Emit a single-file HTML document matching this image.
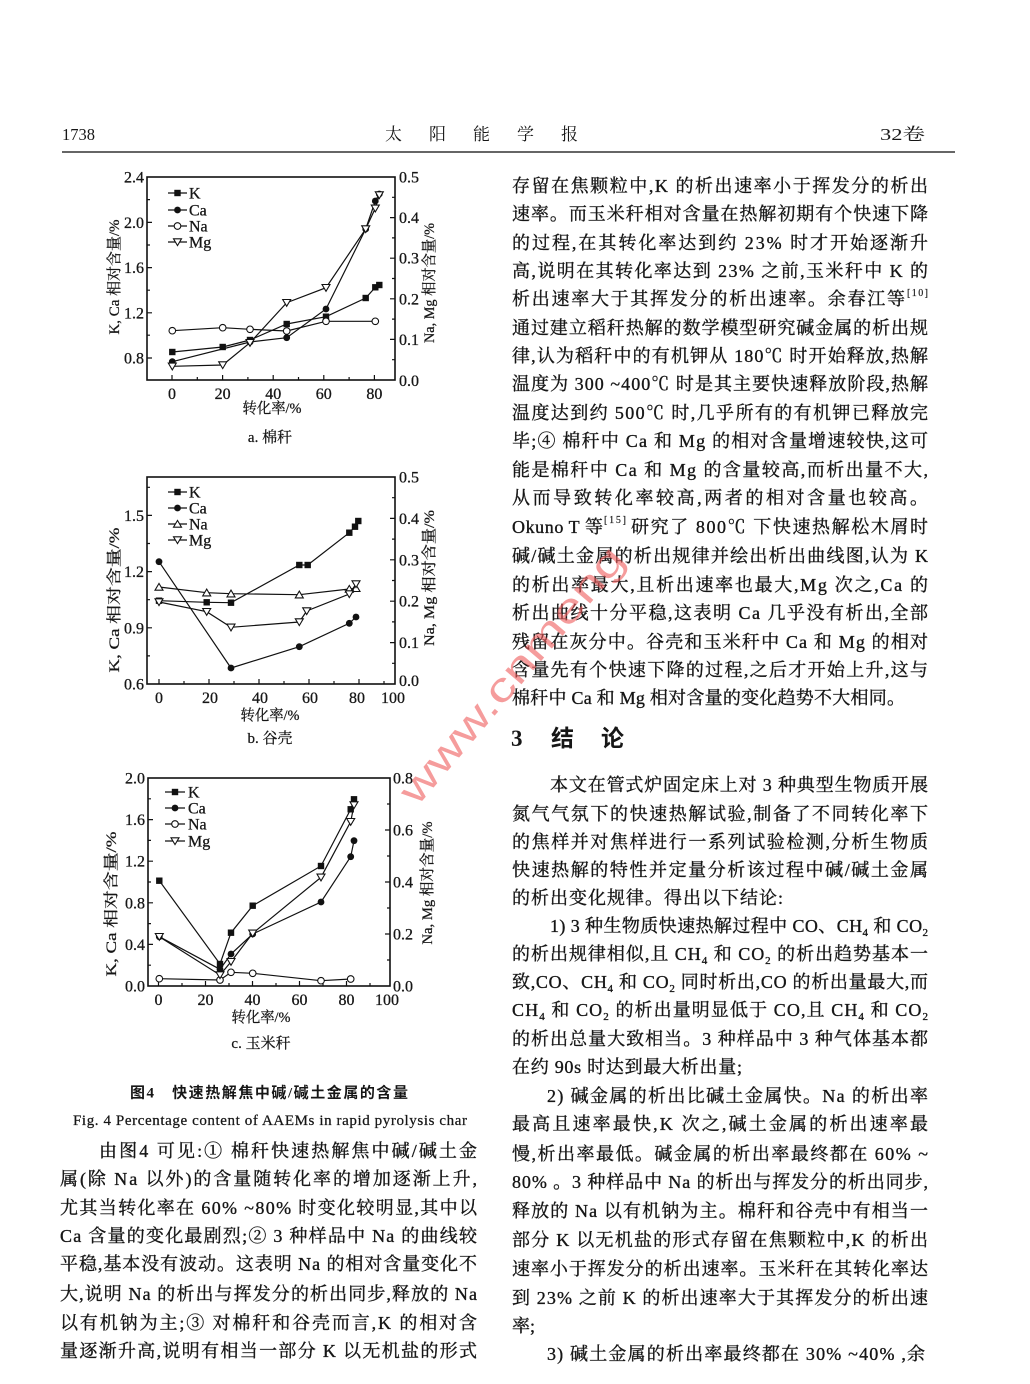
<!DOCTYPE html>
<html><head><meta charset="utf-8"><style>
html,body{margin:0;padding:0;background:#fff;}
svg{display:block;}
.t{font-family:"Liberation Serif","Noto Serif CJK SC",serif;fill:#161616;}
.b{font-size:18px;stroke:#161616;stroke-width:0.35px;}
.n{font-size:16px;stroke:#161616;stroke-width:0.3px;}
.h{font-family:"Liberation Serif","Noto Sans CJK SC",sans-serif;}
</style></head><body>
<svg width="1030" height="1384" viewBox="0 0 1030 1384" xmlns="http://www.w3.org/2000/svg">
<defs>
<marker id="msq" markerWidth="10" markerHeight="10" refX="5" refY="5" markerUnits="userSpaceOnUse" overflow="visible"><rect x="1.8" y="1.8" width="6.4" height="6.4" fill="#111"/></marker>
<marker id="mci" markerWidth="10" markerHeight="10" refX="5" refY="5" markerUnits="userSpaceOnUse" overflow="visible"><circle cx="5" cy="5" r="3.4" fill="#111"/></marker>
<marker id="moc" markerWidth="10" markerHeight="10" refX="5" refY="5" markerUnits="userSpaceOnUse" overflow="visible"><circle cx="5" cy="5" r="3.3" fill="#fff" stroke="#111" stroke-width="1.1"/></marker>
<marker id="mtd" markerWidth="10" markerHeight="10" refX="5" refY="5" markerUnits="userSpaceOnUse" overflow="visible"><polygon points="1,1.8 9,1.8 5,8.6" fill="#fff" stroke="#111" stroke-width="1.1"/></marker>
<marker id="mtu" markerWidth="10" markerHeight="10" refX="5" refY="5" markerUnits="userSpaceOnUse" overflow="visible"><polygon points="1,8.2 9,8.2 5,1.4" fill="#fff" stroke="#111" stroke-width="1.1"/></marker>
</defs>

<!-- Header -->
<text class="t" x="62" y="140" font-size="17" textLength="33" lengthAdjust="spacingAndGlyphs">1738</text>
<text class="t" x="385" y="140" font-size="17" textLength="193" lengthAdjust="spacing">太阳能学报</text>
<text class="t" x="880" y="140" font-size="17" textLength="45" lengthAdjust="spacingAndGlyphs">32卷</text>
<line x1="62" y1="152" x2="955" y2="152" stroke="#333" stroke-width="1.6"/>

<g stroke="#111" fill="none" stroke-width="1.2">
<rect x="147" y="177" width="248" height="203" stroke-width="1.6"/>
<path d="M147 358h5M147 312.8h5M147 267.6h5M147 222.4h5M147 335.2h3M147 290.2h3M147 245h3M147 199.6h3
M395 339.4h-5M395 298.8h-5M395 258.2h-5M395 217.6h-5M395 359.7h-3M395 319.1h-3M395 278.5h-3M395 237.9h-3M395 197.3h-3
M172 380v-5M222.6 380v-5M273.2 380v-5M323.8 380v-5M374.4 380v-5M197.3 380v-3M247.9 380v-3M298.5 380v-3M349.1 380v-3"/>
<rect x="147" y="477" width="248" height="207" stroke-width="1.6"/>
<path d="M147 627.8h5M147 571.6h5M147 515.4h5M147 655.9h3M147 599.7h3M147 543.5h3M147 487.3h3
M395 642.6h-5M395 601.2h-5M395 559.8h-5M395 518.4h-5M395 663.3h-3M395 621.9h-3M395 580.5h-3M395 539.1h-3M395 497.7h-3
M159 684v-5M209 684v-5M259 684v-5M309 684v-5M359 684v-5M184 684v-3M234 684v-3M284 684v-3M334 684v-3M384 684v-3"/>
<rect x="148" y="778" width="242" height="208" stroke-width="1.6"/>
<path d="M148 944.4h5M148 902.8h5M148 861.2h5M148 819.6h5M148 965.2h3M148 923.6h3M148 882h3M148 840.4h3M148 798.8h3
M390 934h-5M390 882h-5M390 830h-5M390 960h-3M390 908h-3M390 856h-3M390 804h-3
M158.5 986v-5M205.5 986v-5M252.5 986v-5M299.5 986v-5M346.5 986v-5M182 986v-3M229 986v-3M276 986v-3M323 986v-3M370 986v-3"/>
</g>

<g fill="none" stroke="#111" stroke-width="1.2">
<polyline points="172.3,352 222.7,347 250,340 286.7,324 326,316.7 365.7,298 375.3,287.3 379.3,285" marker-start="url(#msq)" marker-mid="url(#msq)" marker-end="url(#msq)"/>
<polyline points="172.3,361.7 250,342 286.7,337.7 326,309 365.7,229 375.3,201 379.3,194" marker-start="url(#mci)" marker-mid="url(#mci)" marker-end="url(#mci)"/>
<polyline points="172.3,330.7 222.7,327.7 250,329.3 286.7,331 326,321.3 375.3,321.3" marker-start="url(#moc)" marker-mid="url(#moc)" marker-end="url(#moc)"/>
<polyline points="172.3,366.3 222.7,365 250,342.7 286.7,302.7 326,287.7 365.7,229 375.3,208.3 379.3,195" marker-start="url(#mtd)" marker-mid="url(#mtd)" marker-end="url(#mtd)"/>
<polyline points="168,193 177.5,193 187,193" marker-mid="url(#msq)"/>
<polyline points="168,210 177.5,210 187,210" marker-mid="url(#mci)"/>
<polyline points="168,226 177.5,226 187,226" marker-mid="url(#moc)"/>
<polyline points="168,242 177.5,242 187,242" marker-mid="url(#mtd)"/>

<polyline points="159,600.7 206.7,602.3 231,602.7 299.3,565 307.7,565 349.3,532.7 355,526.7 358.3,521" marker-start="url(#msq)" marker-mid="url(#msq)" marker-end="url(#msq)"/>
<polyline points="159,561.7 231,668 299.3,646.7 349.3,623.3 356,617" marker-start="url(#mci)" marker-mid="url(#mci)" marker-end="url(#mci)"/>
<polyline points="159,587 206.7,592.7 231,593.7 299.3,594.7 349.3,589 356,588.3" marker-start="url(#mtu)" marker-mid="url(#mtu)" marker-end="url(#mtu)"/>
<polyline points="159,602 206.7,611.7 231,627.3 299.3,622 306.7,611 349.3,594 356,584" marker-start="url(#mtd)" marker-mid="url(#mtd)" marker-end="url(#mtd)"/>
<polyline points="168,492 177.5,492 187,492" marker-mid="url(#msq)"/>
<polyline points="168,508 177.5,508 187,508" marker-mid="url(#mci)"/>
<polyline points="168,524 177.5,524 187,524" marker-mid="url(#mtu)"/>
<polyline points="168,540 177.5,540 187,540" marker-mid="url(#mtd)"/>

<polyline points="159.3,880.7 220,964 231,932.7 252.7,905.7 321,866 350.7,809.3 354,799.3" marker-start="url(#msq)" marker-mid="url(#msq)" marker-end="url(#msq)"/>
<polyline points="159.3,936.7 220,969.3 231,954 252.7,934 321,902 350.7,856.7 354,840.7" marker-start="url(#mci)" marker-mid="url(#mci)" marker-end="url(#mci)"/>
<polyline points="159.3,978.7 220,980 231,972.3 252.7,973.3 321,980.7 350.7,979" marker-start="url(#moc)" marker-mid="url(#moc)" marker-end="url(#moc)"/>
<polyline points="159.3,936.7 220,975 231,961.7 252.7,933.3 321,877.3 350.7,821.7 354,805" marker-start="url(#mtd)" marker-mid="url(#mtd)" marker-end="url(#mtd)"/>
<polyline points="165,792 175,792 185,792" marker-mid="url(#msq)"/>
<polyline points="165,808 175,808 185,808" marker-mid="url(#mci)"/>
<polyline points="165,824 175,824 185,824" marker-mid="url(#moc)"/>
<polyline points="165,841 175,841 185,841" marker-mid="url(#mtd)"/>
</g>

<!-- Chart a labels -->
<g class="t n">
<text x="144" y="363.5" text-anchor="end">0.8</text>
<text x="144" y="318.3" text-anchor="end">1.2</text>
<text x="144" y="273.1" text-anchor="end">1.6</text>
<text x="144" y="227.9" text-anchor="end">2.0</text>
<text x="144" y="182.5" text-anchor="end">2.4</text>
<text x="399" y="386">0.0</text>
<text x="399" y="344.9">0.1</text>
<text x="399" y="304.3">0.2</text>
<text x="399" y="263.7">0.3</text>
<text x="399" y="223.1">0.4</text>
<text x="399" y="182.5">0.5</text>
<text x="172" y="399" text-anchor="middle">0</text>
<text x="222.6" y="399" text-anchor="middle">20</text>
<text x="273.2" y="399" text-anchor="middle">40</text>
<text x="323.8" y="399" text-anchor="middle">60</text>
<text x="374.4" y="399" text-anchor="middle">80</text>
</g>
<g class="t" font-size="16" stroke="#161616" stroke-width="0.3">
<text x="189" y="198.5">K</text><text x="189" y="215.5">Ca</text><text x="189" y="231.5">Na</text><text x="189" y="247.5">Mg</text>
<text x="189" y="497.5">K</text><text x="189" y="513.5">Ca</text><text x="189" y="529.5">Na</text><text x="189" y="545.5">Mg</text>
<text x="188" y="797.5">K</text><text x="188" y="813.5">Ca</text><text x="188" y="829.5">Na</text><text x="188" y="846.5">Mg</text>
</g>
<g class="t" font-size="15" stroke="#161616" stroke-width="0.25">
<text transform="translate(119,277) rotate(-90)" text-anchor="middle" textLength="115" lengthAdjust="spacingAndGlyphs">K, Ca 相对含量/%</text>
<text transform="translate(434,283) rotate(-90)" text-anchor="middle" textLength="120" lengthAdjust="spacingAndGlyphs">Na, Mg 相对含量/%</text>
<text x="272" y="413" text-anchor="middle" textLength="59" lengthAdjust="spacingAndGlyphs">转化率/%</text>
<text x="270" y="442" text-anchor="middle">a. 棉秆</text>
</g>

<!-- Chart b labels -->
<g class="t n">
<text x="144" y="689.5" text-anchor="end">0.6</text>
<text x="144" y="633.3" text-anchor="end">0.9</text>
<text x="144" y="577.1" text-anchor="end">1.2</text>
<text x="144" y="520.9" text-anchor="end">1.5</text>
<text x="399" y="686">0.0</text>
<text x="399" y="648.1">0.1</text>
<text x="399" y="606.7">0.2</text>
<text x="399" y="565.3">0.3</text>
<text x="399" y="523.9">0.4</text>
<text x="399" y="482.5">0.5</text>
<text x="159" y="703" text-anchor="middle">0</text>
<text x="210" y="703" text-anchor="middle">20</text>
<text x="260" y="703" text-anchor="middle">40</text>
<text x="310" y="703" text-anchor="middle">60</text>
<text x="357" y="703" text-anchor="middle">80</text>
<text x="393" y="703" text-anchor="middle">100</text>
</g>
<g class="t" font-size="15" stroke="#161616" stroke-width="0.25">
<text transform="translate(119,600) rotate(-90)" text-anchor="middle" textLength="145" lengthAdjust="spacingAndGlyphs">K, Ca 相对含量/%</text>
<text transform="translate(434,578) rotate(-90)" text-anchor="middle" textLength="136" lengthAdjust="spacingAndGlyphs">Na, Mg 相对含量/%</text>
<text x="270" y="720" text-anchor="middle" textLength="59" lengthAdjust="spacingAndGlyphs">转化率/%</text>
<text x="270" y="743" text-anchor="middle">b. 谷壳</text>
</g>

<!-- Chart c labels -->
<g class="t n">
<text x="145" y="991.5" text-anchor="end">0.0</text>
<text x="145" y="949.9" text-anchor="end">0.4</text>
<text x="145" y="908.3" text-anchor="end">0.8</text>
<text x="145" y="866.7" text-anchor="end">1.2</text>
<text x="145" y="825.1" text-anchor="end">1.6</text>
<text x="145" y="783.5" text-anchor="end">2.0</text>
<text x="393" y="991.5">0.0</text>
<text x="393" y="939.5">0.2</text>
<text x="393" y="887.5">0.4</text>
<text x="393" y="835.5">0.6</text>
<text x="393" y="783.5">0.8</text>
<text x="158.5" y="1005" text-anchor="middle">0</text>
<text x="205.5" y="1005" text-anchor="middle">20</text>
<text x="252.5" y="1005" text-anchor="middle">40</text>
<text x="299.5" y="1005" text-anchor="middle">60</text>
<text x="346.5" y="1005" text-anchor="middle">80</text>
<text x="387" y="1005" text-anchor="middle">100</text>
</g>
<g class="t" font-size="15" stroke="#161616" stroke-width="0.25">
<text transform="translate(116,904) rotate(-90)" text-anchor="middle" textLength="145" lengthAdjust="spacingAndGlyphs">K, Ca 相对含量/%</text>
<text transform="translate(432,883) rotate(-90)" text-anchor="middle" textLength="123" lengthAdjust="spacingAndGlyphs">Na, Mg 相对含量/%</text>
<text x="261" y="1022" text-anchor="middle" textLength="59" lengthAdjust="spacingAndGlyphs">转化率/%</text>
<text x="261" y="1048" text-anchor="middle">c. 玉米秆</text>
</g>

<!-- Caption -->
<text class="t h" x="130" y="1097.5" font-size="15" font-weight="bold" textLength="278" lengthAdjust="spacing">图4　快速热解焦中碱/碱土金属的含量</text>
<text class="t" x="73" y="1125" font-size="15" stroke="#161616" stroke-width="0.25" textLength="394" lengthAdjust="spacing">Fig. 4    Percentage content of AAEMs in rapid pyrolysis char</text>

<!-- Left column text -->
<g class="t b">
<text x="99" y="1157" textLength="378" lengthAdjust="spacing">由图4 可见:① 棉秆快速热解焦中碱/碱土金</text>
<text x="60" y="1185" textLength="417" lengthAdjust="spacing">属(除 Na 以外)的含量随转化率的增加逐渐上升,</text>
<text x="60" y="1214" textLength="417" lengthAdjust="spacing">尤其当转化率在 60% ~80% 时变化较明显,其中以</text>
<text x="60" y="1242" textLength="417" lengthAdjust="spacing">Ca 含量的变化最剧烈;② 3 种样品中 Na 的曲线较</text>
<text x="60" y="1270" textLength="417" lengthAdjust="spacing">平稳,基本没有波动。这表明 Na 的相对含量变化不</text>
<text x="60" y="1300" textLength="417" lengthAdjust="spacing">大,说明 Na 的析出与挥发分的析出同步,释放的 Na</text>
<text x="60" y="1329" textLength="417" lengthAdjust="spacing">以有机钠为主;③ 对棉秆和谷壳而言,K 的相对含</text>
<text x="60" y="1357" textLength="417" lengthAdjust="spacing">量逐渐升高,说明有相当一部分 K 以无机盐的形式</text>
</g>

<!-- Right column text -->
<g class="t b">
<text x="512" y="192" textLength="416" lengthAdjust="spacing">存留在焦颗粒中,K 的析出速率小于挥发分的析出</text>
<text x="512" y="220" textLength="416" lengthAdjust="spacing">速率。而玉米秆相对含量在热解初期有个快速下降</text>
<text x="512" y="249" textLength="416" lengthAdjust="spacing">的过程,在其转化率达到约 23% 时才开始逐渐升</text>
<text x="512" y="277" textLength="416" lengthAdjust="spacing">高,说明在其转化率达到 23% 之前,玉米秆中 K 的</text>
<text x="512" y="305" textLength="393" lengthAdjust="spacing">析出速率大于其挥发分的析出速率。余春江等</text>
<text x="907" y="296" font-size="10" stroke-width="0.15" textLength="21" lengthAdjust="spacing">[10]</text>
<text x="512" y="334" textLength="416" lengthAdjust="spacing">通过建立稻秆热解的数学模型研究碱金属的析出规</text>
<text x="512" y="362" textLength="416" lengthAdjust="spacing">律,认为稻秆中的有机钾从 180℃ 时开始释放,热解</text>
<text x="512" y="390" textLength="416" lengthAdjust="spacing">温度为 300 ~400℃ 时是其主要快速释放阶段,热解</text>
<text x="512" y="419" textLength="416" lengthAdjust="spacing">温度达到约 500℃ 时,几乎所有的有机钾已释放完</text>
<text x="512" y="447" textLength="416" lengthAdjust="spacing">毕;④ 棉秆中 Ca 和 Mg 的相对含量增速较快,这可</text>
<text x="512" y="476" textLength="416" lengthAdjust="spacing">能是棉秆中 Ca 和 Mg 的含量较高,而析出量不大,</text>
<text x="512" y="504" textLength="416" lengthAdjust="spacing">从而导致转化率较高,两者的相对含量也较高。</text>
<text x="512" y="533" textLength="91" lengthAdjust="spacing">Okuno T 等</text>
<text x="604" y="523" font-size="10" stroke-width="0.15" textLength="22" lengthAdjust="spacing">[15]</text>
<text x="631" y="533" textLength="297" lengthAdjust="spacing">研究了 800℃ 下快速热解松木屑时</text>
<text x="512" y="562" textLength="416" lengthAdjust="spacing">碱/碱土金属的析出规律并绘出析出曲线图,认为 K</text>
<text x="512" y="591" textLength="416" lengthAdjust="spacing">的析出率最大,且析出速率也最大,Mg 次之,Ca 的</text>
<text x="512" y="619" textLength="416" lengthAdjust="spacing">析出曲线十分平稳,这表明 Ca 几乎没有析出,全部</text>
<text x="512" y="648" textLength="416" lengthAdjust="spacing">残留在灰分中。谷壳和玉米秆中 Ca 和 Mg 的相对</text>
<text x="512" y="676" textLength="416" lengthAdjust="spacing">含量先有个快速下降的过程,之后才开始上升,这与</text>
<text x="512" y="704" textLength="393" lengthAdjust="spacing">棉秆中 Ca 和 Mg 相对含量的变化趋势不大相同。</text>
</g>
<g class="t h" font-size="23" font-weight="bold">
<text x="511" y="746">3</text>
<text x="551" y="746">结</text>
<text x="601" y="746">论</text>
</g>
<g class="t b">
<text x="550" y="791" textLength="378" lengthAdjust="spacing">本文在管式炉固定床上对 3 种典型生物质开展</text>
<text x="512" y="820" textLength="416" lengthAdjust="spacing">氮气气氛下的快速热解试验,制备了不同转化率下</text>
<text x="512" y="848" textLength="416" lengthAdjust="spacing">的焦样并对焦样进行一系列试验检测,分析生物质</text>
<text x="512" y="876" textLength="416" lengthAdjust="spacing">快速热解的特性并定量分析该过程中碱/碱土金属</text>
<text x="512" y="904" textLength="271" lengthAdjust="spacing">的析出变化规律。得出以下结论:</text>
<text x="550" y="932" textLength="378" lengthAdjust="spacing">1) 3 种生物质快速热解过程中 CO、CH<tspan font-size="11" dy="4">4</tspan><tspan dy="-4"> 和 CO</tspan><tspan font-size="11" dy="4">2</tspan></text>
<text x="512" y="960" textLength="416" lengthAdjust="spacing">的析出规律相似,且 CH<tspan font-size="11" dy="4">4</tspan><tspan dy="-4"> 和 CO</tspan><tspan font-size="11" dy="4">2</tspan><tspan dy="-4"> 的析出趋势基本一</tspan></text>
<text x="512" y="988" textLength="416" lengthAdjust="spacing">致,CO、CH<tspan font-size="11" dy="4">4</tspan><tspan dy="-4"> 和 CO</tspan><tspan font-size="11" dy="4">2</tspan><tspan dy="-4"> 同时析出,CO 的析出量最大,而</tspan></text>
<text x="512" y="1016" textLength="416" lengthAdjust="spacing">CH<tspan font-size="11" dy="4">4</tspan><tspan dy="-4"> 和 CO</tspan><tspan font-size="11" dy="4">2</tspan><tspan dy="-4"> 的析出量明显低于 CO,且 CH</tspan><tspan font-size="11" dy="4">4</tspan><tspan dy="-4"> 和 CO</tspan><tspan font-size="11" dy="4">2</tspan></text>
<text x="512" y="1045" textLength="416" lengthAdjust="spacing">的析出总量大致相当。3 种样品中 3 种气体基本都</text>
<text x="512" y="1073" textLength="230" lengthAdjust="spacing">在约 90s 时达到最大析出量;</text>
<text x="547" y="1102" textLength="381" lengthAdjust="spacing">2) 碱金属的析出比碱土金属快。Na 的析出率</text>
<text x="512" y="1130" textLength="416" lengthAdjust="spacing">最高且速率最快,K 次之,碱土金属的析出速率最</text>
<text x="512" y="1160" textLength="416" lengthAdjust="spacing">慢,析出率最低。碱金属的析出率最终都在 60% ~</text>
<text x="512" y="1188" textLength="416" lengthAdjust="spacing">80% 。3 种样品中 Na 的析出与挥发分的析出同步,</text>
<text x="512" y="1217" textLength="416" lengthAdjust="spacing">释放的 Na 以有机钠为主。棉秆和谷壳中有相当一</text>
<text x="512" y="1246" textLength="416" lengthAdjust="spacing">部分 K 以无机盐的形式存留在焦颗粒中,K 的析出</text>
<text x="512" y="1275" textLength="416" lengthAdjust="spacing">速率小于挥发分的析出速率。玉米秆在其转化率达</text>
<text x="512" y="1304" textLength="416" lengthAdjust="spacing">到 23% 之前 K 的析出速率大于其挥发分的析出速</text>
<text x="512" y="1332">率;</text>
<text x="547" y="1360" textLength="378" lengthAdjust="spacing">3) 碱土金属的析出率最终都在 30% ~40% ,余</text>
</g>

<!-- Watermark -->
<text x="417" y="807" transform="rotate(-49.6 417 807)" font-family="Liberation Sans, sans-serif" font-size="40" fill="#ee5a5a" fill-opacity="0.6" textLength="324" lengthAdjust="spacingAndGlyphs">www.cnmeng</text>
</svg>
</body></html>
